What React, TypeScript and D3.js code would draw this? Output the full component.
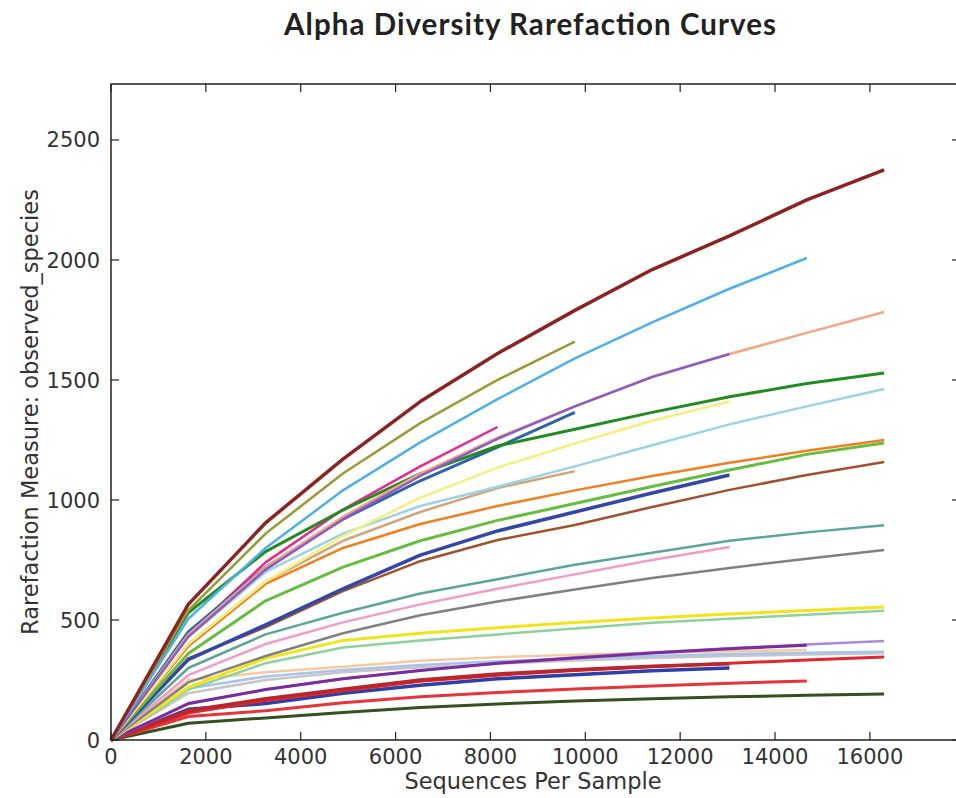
import React from "react";
import * as d3 from "d3";

const W = 956;
const H = 798;

const depths = [0, 1630, 3260, 4890, 6520, 8150, 9780, 11410, 13040, 14670, 16300];
const xTicks = [0, 2000, 4000, 6000, 8000, 10000, 12000, 14000, 16000];
const yTicks = [0, 500, 1000, 1500, 2000, 2500];

// observed species per sample (one array per sample)
const darkGreen = [0, 70, 92, 115, 135, 150, 162, 172, 180, 186, 192];
const red2 = [0, 98, 122, 155, 180, 198, 212, 225, 236, 246];
const blue2 = [0, 128, 152, 195, 228, 255, 272, 288, 300];
const red = [0, 112, 165, 205, 245, 270, 290, 305, 320, 333, 346];
const crimson = [0, 122, 172, 212, 250, 275, 293, 307, 318];
const lightGray = [0, 195, 250, 282, 303, 318, 331, 342, 350, 356, 361];
const lightSteel = [0, 215, 265, 292, 312, 328, 340, 350, 358, 364, 368];
const beige = [0, 250, 282, 305, 330, 345, 355, 363, 370, 375];
const lavender = [0, 150, 210, 255, 290, 320, 345, 365, 382, 398, 412];
const darkPurple = [0, 152, 210, 255, 290, 320, 342, 362, 380, 395];
const mint = [0, 210, 320, 385, 415, 440, 465, 488, 505, 522, 538];
const yellow = [0, 220, 340, 415, 445, 468, 490, 508, 525, 540, 554];
const gray = [0, 240, 350, 445, 520, 577, 627, 675, 717, 755, 792];
const pink = [0, 270, 400, 490, 565, 630, 690, 750, 804];
const teal = [0, 300, 440, 530, 610, 670, 730, 780, 830, 865, 895];
const brown = [0, 340, 470, 620, 745, 833, 896, 971, 1042, 1104, 1158];
const blue = [0, 335, 480, 630, 770, 871, 950, 1029, 1104];
const lightGreen = [0, 360, 580, 720, 830, 915, 985, 1056, 1125, 1190, 1237];
const orange = [0, 390, 650, 800, 900, 975, 1040, 1100, 1155, 1205, 1250];
const tan = [0, 400, 660, 830, 950, 1050, 1120];
const skyBlue = [0, 430, 700, 860, 975, 1055, 1140, 1228, 1315, 1390, 1462];
const paleYellow = [0, 400, 660, 850, 1010, 1135, 1235, 1330, 1410];
const magenta = [0, 440, 740, 960, 1140, 1304];
const steelBlue = [0, 450, 720, 920, 1080, 1220, 1365];
const green = [0, 530, 785, 958, 1110, 1225, 1295, 1365, 1430, 1485, 1529];
const salmon = [0, 440, 720, 930, 1110, 1260, 1390, 1515, 1608, 1696, 1783];
const purple = [0, 430, 710, 920, 1100, 1255, 1390, 1512, 1608];
const lightBlue = [0, 505, 800, 1040, 1240, 1420, 1590, 1740, 1880, 2008];
const olive = [0, 540, 860, 1110, 1320, 1500, 1660];
const maroon = [0, 565, 905, 1170, 1410, 1610, 1790, 1960, 2100, 2250, 2375];

const seriesValues = [
  darkGreen, red2, blue2, red, crimson, lightGray, lightSteel, beige, lavender, darkPurple,
  mint, yellow, gray, pink, teal, brown, blue, lightGreen, orange, tan,
  skyBlue, paleYellow, magenta, steelBlue, green, salmon, purple, lightBlue, olive, maroon,
];
const seriesColors = [
  "#34501e", "#e8333a", "#2e3fa6", "#e3262b", "#b9262c", "#c6c6c8", "#a8c4e8", "#f6caa0", "#a58bdb", "#7b2d9e",
  "#8fd19e", "#f2e41a", "#808080", "#f29bc8", "#5ba59a", "#a0522d", "#3446a8", "#66bd3f", "#f07f20", "#d2a679",
  "#9bd3e6", "#f5ee80", "#e7298a", "#2f63a8", "#228b22", "#f4a582", "#8a5cc6", "#4fb0e8", "#9a9a3a", "#8b2323",
];
const seriesWidths = [
  3, 3, 3.5, 3, 3.5, 2.5, 2.5, 2.5, 2.5, 3,
  2.5, 3, 2.5, 2.5, 2.5, 2.5, 3.5, 3, 2.5, 2.5,
  2.5, 2.5, 2.5, 3, 3, 2.5, 2.5, 2.5, 2.5, 3.5,
];

export default function App() {
  const x = d3.scaleLinear().domain([0, 17900]).range([111, 960]);
  const y = d3.scaleLinear().domain([0, 2733]).range([740, 84]);
  const line = d3
    .line<number>()
    .x((_, i) => x(depths[i]))
    .y((d) => y(d));

  const left = x(0);
  const right = x(17900);
  const top = y(2733);
  const bottom = y(0);
  const tickFont = "'DejaVu Sans', sans-serif";
  const axisColor = "#222";

  return (
    <svg
      width={W}
      height={H}
      viewBox={`0 0 ${W} ${H}`}
      style={{ position: "absolute", left: 0, top: 0, background: "#fff" }}
    >
      <rect x={0} y={0} width={W} height={H} fill="#fff" />
      <text
        x={530}
        y={35}
        textAnchor="middle"
        fontFamily="Lato, 'Open Sans', sans-serif"
        fontWeight="bold"
        fontSize={29.5}
        textLength={492}
        lengthAdjust="spacing"
        fill="#222"
      >
        Alpha Diversity Rarefaction Curves
      </text>

      <g>
        {seriesValues.map((vals, i) => (
          <path
            key={i}
            d={line(vals) || ""}
            fill="none"
            stroke={seriesColors[i]}
            strokeWidth={seriesWidths[i]}
            strokeLinejoin="round"
            strokeLinecap="butt"
          />
        ))}
      </g>

      <rect
        x={left}
        y={top}
        width={right - left}
        height={bottom - top}
        fill="none"
        stroke={axisColor}
        strokeWidth={1.5}
      />

      {xTicks.map((t) => (
        <g key={"x" + t}>
          <line x1={x(t)} x2={x(t)} y1={bottom} y2={bottom - 8} stroke={axisColor} strokeWidth={1.2} />
          <line x1={x(t)} x2={x(t)} y1={top} y2={top + 8} stroke={axisColor} strokeWidth={1.2} />
          <text
            x={x(t)}
            y={764}
            textAnchor="middle"
            fontFamily={tickFont}
            fontSize={21}
            fill="#333"
          >
            {t}
          </text>
        </g>
      ))}
      {yTicks.map((t) => (
        <g key={"y" + t}>
          <line x1={left} x2={left + 8} y1={y(t)} y2={y(t)} stroke={axisColor} strokeWidth={1.2} />
          <line x1={right} x2={right - 8} y1={y(t)} y2={y(t)} stroke={axisColor} strokeWidth={1.2} />
          <text
            x={100}
            y={y(t)}
            dy="0.36em"
            textAnchor="end"
            fontFamily={tickFont}
            fontSize={21}
            fill="#333"
          >
            {t}
          </text>
        </g>
      ))}

      <text
        x={(left + 955) / 2}
        y={789}
        textAnchor="middle"
        fontFamily={tickFont}
        fontSize={22.5}
        fill="#333"
      >
        Sequences Per Sample
      </text>
      <text
        transform={`translate(38, ${(top + bottom) / 2}) rotate(-90)`}
        textAnchor="middle"
        fontFamily={tickFont}
        fontSize={22.5}
        fill="#333"
      >
        Rarefaction Measure: observed_species
      </text>
    </svg>
  );
}
